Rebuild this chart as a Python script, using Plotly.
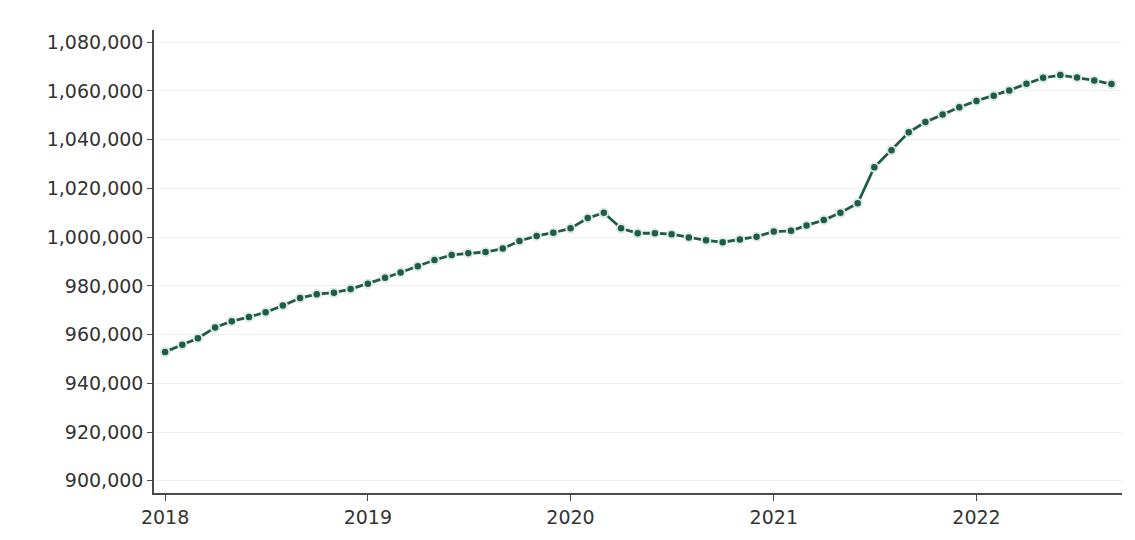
import plotly.graph_objects as go
import pandas as pd

start_month = "2018-01-01"
n_months = 57
months = pd.date_range(start_month, periods=n_months, freq="MS")

values = [
    952900, 955800, 958500, 962900, 965500, 967200, 969200, 971900, 975000, 976600, 977200, 978700,
    980900, 983300, 985500, 988000, 990600, 992700, 993400, 993900, 995300, 998400, 1000500, 1001800,
    1003600, 1007800, 1010000, 1003600, 1001600, 1001600, 1001200, 999900, 998700, 997900, 999000, 1000200,
    1002300, 1002600, 1004800, 1007000, 1010000, 1013900, 1028700, 1035700, 1043000, 1047200, 1050300, 1053300,
    1055900, 1058000, 1060200, 1062900, 1065400, 1066500, 1065500, 1064300, 1062800,
]

y_ticks = [900000, 920000, 940000, 960000, 980000, 1000000, 1020000, 1040000, 1060000, 1080000]

fig = go.Figure()
fig.add_trace(go.Scatter(
    x=months, y=values, mode="lines+markers",
    line=dict(color="#1f5b4a", width=2.8),
    marker=dict(color="#1f5b4a", size=8.5, line=dict(color="#dce9e3", width=2)),
    hoverinfo="x+y", showlegend=False,
))

font = dict(family="DejaVu Sans", size=19, color="#333333")
fig.update_layout(
    width=1119, height=524,
    margin=dict(l=146, r=5, t=22, b=39),
    paper_bgcolor="white", plot_bgcolor="white",
    font=font,
    xaxis=dict(
        range=["2017-12-12", "2022-09-20"],
        tick0="2018-01-01", dtick="M12", tickformat="%Y",
        showgrid=False, showline=True, linecolor="#4a4a4a", linewidth=1.5,
        ticks="outside", ticklen=6, tickcolor="#4a4a4a", zeroline=False,
        tickfont=font,
    ),
    yaxis=dict(
        range=[895000, 1085000],
        tickvals=y_ticks, tickformat=",",
        showgrid=True, gridcolor="#edf3f2", gridwidth=1,
        showline=True, linecolor="#4a4a4a", linewidth=1.5,
        ticks="outside", ticklen=5, tickcolor="#4a4a4a", zeroline=False,
        tickfont=font,
    ),
)

fig.write_html("out.html")
